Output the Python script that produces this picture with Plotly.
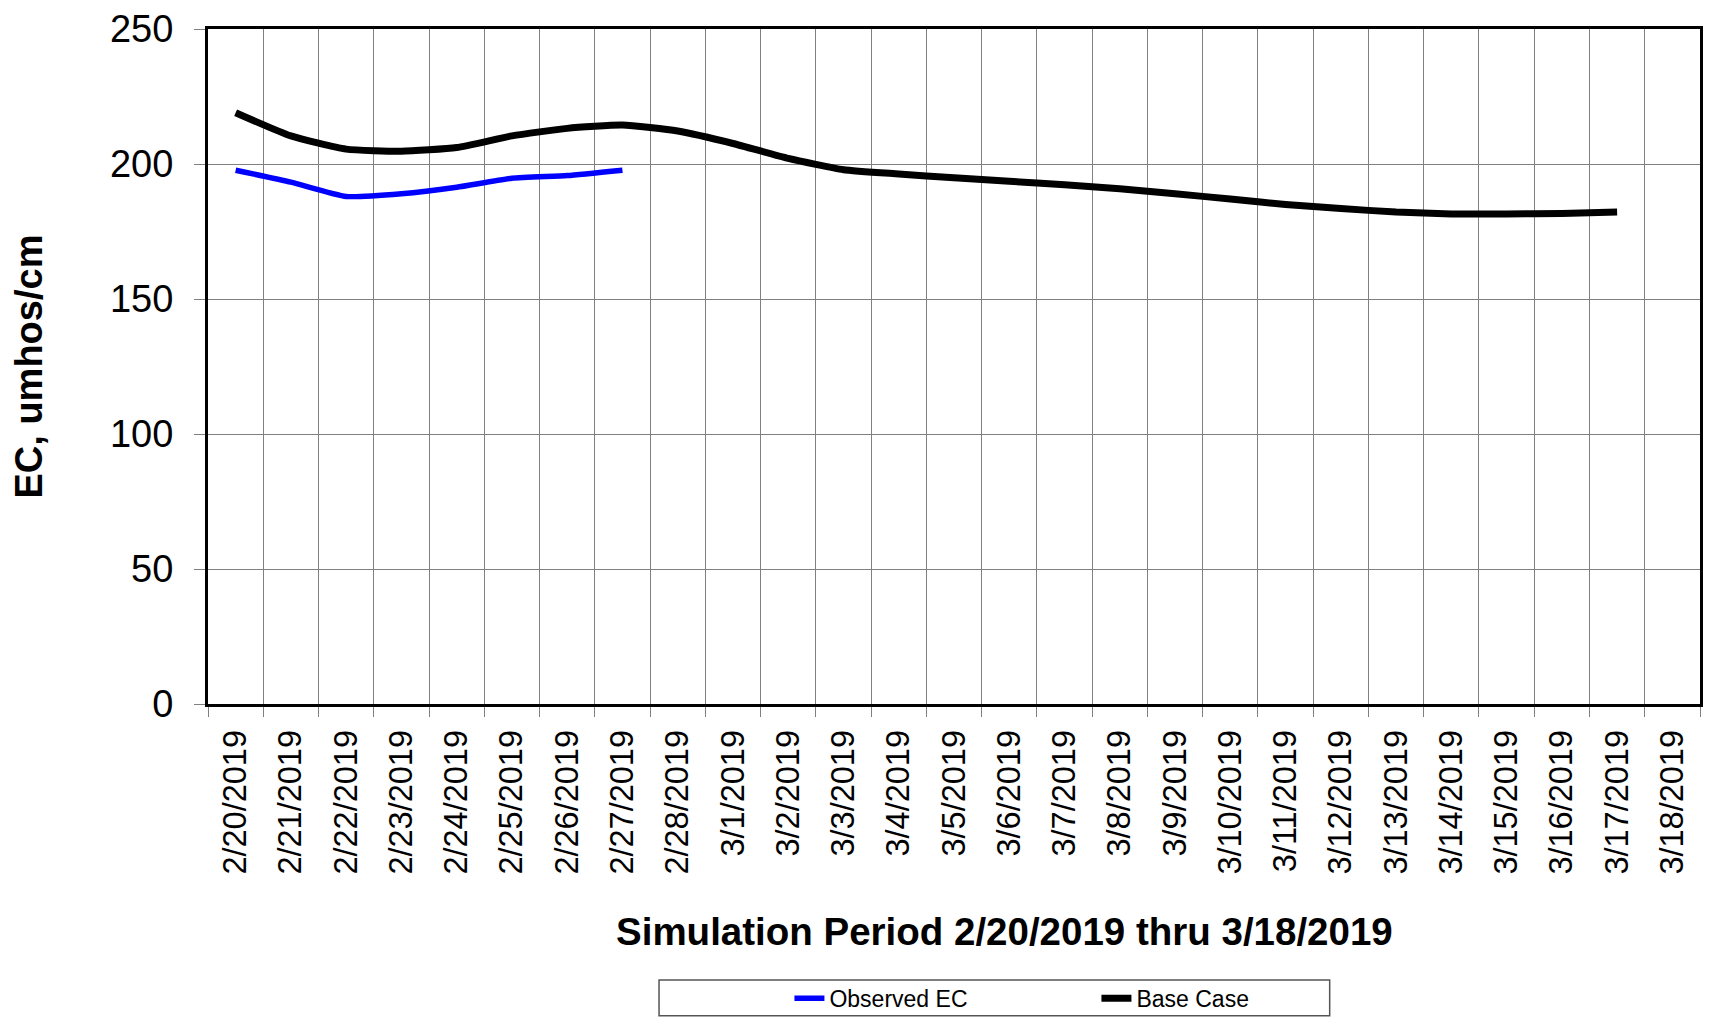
import plotly.graph_objects as go

dates = ["2/20/2019", "2/21/2019", "2/22/2019", "2/23/2019", "2/24/2019", "2/25/2019",
         "2/26/2019", "2/27/2019", "2/28/2019", "3/1/2019", "3/2/2019", "3/3/2019",
         "3/4/2019", "3/5/2019", "3/6/2019", "3/7/2019", "3/8/2019", "3/9/2019",
         "3/10/2019", "3/11/2019", "3/12/2019", "3/13/2019", "3/14/2019", "3/15/2019",
         "3/16/2019", "3/17/2019", "3/18/2019"]

observed_ec = [197.7, 193.3, 188.0, 189.0, 191.4, 194.7, 195.7, 197.7]

base_case = [219.0, 210.4, 205.5, 204.7, 206.1, 210.4, 213.2, 214.4, 212.2,
             207.6, 202.1, 197.9, 196.3, 194.9, 193.6, 192.3, 190.8, 189.0,
             187.0, 185.0, 183.5, 182.2, 181.5, 181.5, 181.7, 182.2]

y_ticks = [0, 50, 100, 150, 200, 250]

FONT = "Liberation Sans, Arial, sans-serif"

fig = go.Figure()
fig.add_trace(go.Scatter(
    x=dates[:len(observed_ec)], y=observed_ec, name="Observed EC", mode="lines",
    line=dict(color="#0000FF", width=5.5, shape="spline", smoothing=0.5)))
fig.add_trace(go.Scatter(
    x=dates[:len(base_case)], y=base_case, name="Base Case", mode="lines",
    line=dict(color="#000000", width=7, shape="spline", smoothing=0.5)))

fig.update_xaxes(
    type="category", categoryorder="array", categoryarray=dates,
    range=[-0.5, len(dates) - 0.5],
    tickson="boundaries", ticks="outside", ticklen=10, tickcolor="#808080",
    tickangle=-90, tickfont=dict(family=FONT, size=32.5, color="black"),
    ticklabelstandoff=10,
    showgrid=True, gridcolor="#808080", gridwidth=1,
    showline=True, linecolor="black", linewidth=3, mirror=True,
    zeroline=False)
fig.update_yaxes(
    range=[0, 250], tickvals=y_ticks, ticks="outside", ticklen=11, tickcolor="#808080",
    tickfont=dict(family=FONT, size=38, color="black"),
    ticklabelstandoff=13, ticklabeloverflow="allow",
    showgrid=True, gridcolor="#808080", gridwidth=1,
    showline=True, linecolor="black", linewidth=3, mirror=True,
    zeroline=False)

fig.add_annotation(
    text="<b>EC, umhos/cm</b>", textangle=-90, xref="paper", yref="paper",
    x=0, y=0.5, xanchor="center", yanchor="middle", xshift=-180, showarrow=False,
    font=dict(family=FONT, size=38, color="black"))
fig.add_annotation(
    text="<b>Simulation Period 2/20/2019 thru 3/18/2019</b>", xref="paper", yref="paper",
    x=0.5338, y=0, xanchor="center", yanchor="middle", yshift=-227, showarrow=False,
    font=dict(family=FONT, size=38.5, color="black"))

fig.add_shape(type="rect", xref="paper", yref="paper",
              x0=0.3023, x1=0.7518, y0=-0.4620, y1=-0.4088,
              line=dict(color="#555555", width=1.5), fillcolor="rgba(0,0,0,0)")

fig.update_layout(
    width=1695, height=1012,
    margin=dict(l=200, r=0, t=16, b=316),
    plot_bgcolor="white", paper_bgcolor="white",
    font=dict(family=FONT, color="black"),
    showlegend=True,
    legend=dict(orientation="h", x=0.3897, xanchor="left", y=-0.436, yanchor="middle",
                font=dict(family=FONT, size=23, color="black"),
                bgcolor="rgba(0,0,0,0)", borderwidth=0,
                entrywidth=262, entrywidthmode="pixels", itemwidth=30),
)

fig.write_html("out.html")
